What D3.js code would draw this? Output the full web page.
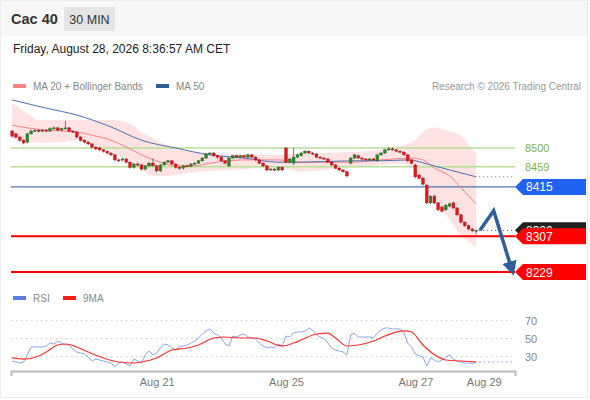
<!DOCTYPE html>
<html>
<head>
<meta charset="utf-8">
<script src="https://cdn.jsdelivr.net/npm/d3@7"></script>
<style>
  body { margin: 0; background: #fff; }
  text { font-family: "Liberation Sans", Arial, sans-serif; }
</style>
</head>
<body>
<div id="chart"></div>
<script>
// 30 min candles, CAC 40 (index 0 = first bar on the left)
const opens = [8537,8531,8524,8517,8513,8531,8537,8539,8537,8539,8537,8542,8544,8539,8542,8544,8537,8535,8524,8517,
  8513,8509,8502,8500,8496,8493,8489,8485,8474,8474,8476,8469,8458,8465,8463,8454,8461,8467,8461,8450,
  8463,8469,8472,8465,8458,8456,8461,8460,8465,8467,8472,8478,8487,8489,8483,8480,8472,8461,8478,8483,
  8480,8483,8480,8485,8480,8474,8467,8461,8452,8454,8452,8458,8500,8469,8467,8480,8483,8489,8493,8489,
  8487,8480,8478,8476,8469,8463,8456,8452,8448,8467,8478,8483,8478,8476,8474,8476,8472,8485,8489,8496,
  8498,8496,8493,8491,8485,8474,8463,8441,8434,8419,8380,8395,8380,8371,8365,8373,8380,8369,8354,8338,
  8330,8323,8318];
const closes = [8526,8524,8517,8511,8531,8537,8539,8537,8539,8537,8542,8544,8539,8542,8544,8537,8535,8524,8517,8513,
  8509,8502,8498,8496,8493,8489,8485,8474,8472,8476,8469,8458,8465,8463,8454,8461,8467,8461,8450,8463,
  8469,8472,8465,8458,8456,8461,8460,8465,8467,8472,8478,8487,8489,8483,8480,8472,8467,8478,8483,8480,
  8483,8480,8485,8480,8474,8467,8461,8452,8454,8452,8458,8452,8469,8476,8480,8485,8489,8493,8489,8487,
  8480,8478,8476,8469,8463,8456,8452,8448,8439,8478,8485,8478,8476,8474,8476,8474,8485,8489,8496,8498,
  8496,8493,8491,8485,8472,8467,8437,8434,8421,8380,8395,8380,8365,8362,8375,8378,8369,8354,8338,8330,
  8323,8319,8320];
const highs = [8540,8533,8526,8519,8533,8540,8541,8541,8541,8541,8545,8547,8546,8544,8559,8546,8539,8537,8526,8519,
  8515,8511,8504,8503,8498,8495,8491,8487,8477,8479,8478,8471,8467,8468,8465,8463,8469,8477,8463,8465,
  8471,8474,8474,8467,8460,8463,8463,8467,8469,8474,8480,8489,8491,8491,8485,8482,8474,8480,8485,8485,
  8485,8485,8487,8487,8482,8476,8469,8463,8456,8456,8460,8460,8502,8478,8500,8487,8491,8496,8495,8491,
  8489,8482,8480,8478,8471,8465,8458,8454,8450,8480,8487,8486,8480,8478,8478,8478,8487,8491,8498,8502,
  8501,8498,8495,8493,8487,8476,8465,8443,8437,8421,8397,8398,8382,8374,8377,8380,8383,8371,8356,8340,
  8333,8325,8322];
const lows = [8523,8521,8514,8508,8510,8529,8535,8534,8535,8534,8535,8540,8537,8537,8540,8534,8532,8521,8514,8510,
  8506,8499,8495,8493,8490,8486,8482,8471,8469,8471,8466,8455,8455,8460,8451,8451,8458,8459,8447,8448,
  8461,8467,8463,8455,8453,8453,8458,8458,8463,8465,8470,8476,8485,8481,8477,8469,8464,8458,8476,8478,
  8478,8478,8478,8478,8471,8465,8458,8449,8450,8449,8450,8449,8467,8466,8463,8478,8481,8487,8487,8485,
  8478,8476,8474,8467,8460,8454,8449,8446,8436,8464,8476,8476,8474,8472,8472,8472,8470,8483,8487,8494,
  8494,8491,8489,8483,8469,8464,8434,8431,8418,8377,8377,8377,8362,8359,8362,8370,8366,8351,8335,8327,
  8320,8316,8311];

// moving averages and Bollinger bands at these bar indices
const ma50Idx = [0,9,17,26,34,43,52,61,70,76,89,97,104,110,115,122];
const ma50Val = [8605,8587,8572,8546,8517,8500,8485,8478,8469,8469,8472,8472,8474,8463,8452,8437];
const ma20Idx = [0,4,13,17,21,26,30,34,39,43,48,52,61,70,76,89,97,105,108,111,115,118,122];
const ma20Val = [8550,8544,8537,8535,8528,8517,8502,8485,8469,8461,8461,8467,8474,8474,8469,8469,8474,8478,8474,8456,8439,8413,8378];
const bandIdx = [0,4,7,13,17,21,26,30,34,38,43,48,52,57,64,70,76,83,89,97,102,106,108,111,115,118,120,122];
const bandUpper = [8598,8576,8561,8561,8561,8561,8561,8557,8535,8517,8498,8492,8489,8487,8486,8485,8487,8489,8491,8496,8504,8517,8535,8544,8537,8526,8507,8489];
const bandLower = [8522,8511,8512,8513,8517,8507,8491,8474,8452,8438,8441,8448,8450,8452,8456,8458,8448,8453,8458,8463,8466,8450,8425,8390,8343,8310,8295,8284];

// RSI (one value per bar) and its 9 period average
const rsi = [25.2,24.1,23,24.1,32,40.8,40.8,40.8,40.8,41.9,45.2,44.1,47.4,45.2,43,43,38.6,35.2,34.1,33,
  29.7,25.2,27.4,26.3,25.2,24.1,23,18.6,23,24.1,21.9,19.7,27.4,25.2,23,31.9,36.3,31.9,34.1,39.7,
  44.1,43,39.7,37.4,40.8,41.9,43,45.2,47.4,50.8,55.2,58.6,60.8,56.3,54.1,50.8,44.1,41.9,53,51.9,
  54.1,55.2,51.9,50.8,49.7,45.2,41.9,39.7,40.8,39.7,44.1,41.9,53,51.9,56.3,57.4,57.4,58.6,61.9,59.7,
  54.1,51.9,49.7,45.2,39.7,37.4,36.3,35.2,31.9,54.1,56.3,51.9,51.9,51.9,51.9,50.8,56.3,59.7,61.9,61.9,
  60.8,60.8,60.8,56.3,45.2,40.8,33,30.8,29.7,19.7,28.6,26.3,24.1,26.3,29.7,31.9,27.4,25.2,24.1,23,
  23,21.9,24.1];
const rsiMaIdx = [0,3,7,9,12,14,17,20,24,28,32,34,38,42,46,49,53,56,60,64,67,71,74,76,80,83,85,88,91,95,98,103,105,108,112,114,118,122];
const rsiMaVal = [28.6,27.4,30.8,35.2,43,44.1,40.8,35.2,28.6,24.1,23,24.1,28.6,37.4,39.7,43,50.8,51.9,50.8,50.8,47.4,41.9,45.2,48.6,55.2,56.3,50.8,41.9,43,47.4,53,58.6,57.4,43,29.7,26.3,25.2,24.1];

// date ticks and levels
const tickIdx = [38, 72, 106, 124];
const tickLabels = ["Aug 21", "Aug 25", "Aug 27", "Aug 29"];
const resistances = [8500, 8459];
const pivot = 8415;
const supports = [8307, 8229];
const lastPrice = 8320;
const rsiLevels = [70, 50, 30];
// forecast arrow, in bar index / price
const arrowPts = [[123, 8320], [126.6, 8363], [131.3, 8236]];

const width = 590, height = 400;

const svg = d3.select("#chart").append("svg")
  .attr("width", width)
  .attr("height", height);

// card + header
svg.append("rect").attr("x", 0.5).attr("y", 0.5).attr("width", width - 3).attr("height", height - 3)
  .attr("fill", "#fff").attr("stroke", "#ececec");
svg.append("rect").attr("x", 1).attr("y", 1).attr("width", width - 4).attr("height", 35).attr("fill", "#f7f7f7");
svg.append("text").attr("x", 11).attr("y", 24).text("Cac 40")
  .attr("font-size", 14.5).attr("font-weight", "bold").attr("fill", "#333");
svg.append("rect").attr("x", 64).attr("y", 7).attr("width", 51).attr("height", 24).attr("fill", "#e4e4e4");
svg.append("text").attr("x", 89.5).attr("y", 24).attr("text-anchor", "middle").text("30 MIN")
  .attr("font-size", 12.5).attr("fill", "#333");
svg.append("text").attr("x", 13).attr("y", 53).text("Friday, August 28, 2026 8:36:57 AM CET")
  .attr("font-size", 12).attr("fill", "#222");

// legends
const legend = (x, y, color, label) => {
  svg.append("rect").attr("x", x).attr("y", y - 2).attr("width", 13).attr("height", 4).attr("fill", color);
  svg.append("text").attr("x", x + 20).attr("y", y + 4).text(label).attr("font-size", 10).attr("fill", "#888");
};
legend(13, 86, "#ff8585", "MA 20 + Bollinger Bands");
legend(156, 86, "#2f5c9c", "MA 50");
legend(13, 298, "#5b7fe0", "RSI");
legend(63, 298, "#ff1a1a", "9MA");
svg.append("text").attr("x", 581).attr("y", 90).attr("text-anchor", "end")
  .text("Research \u00a9 2026 Trading Central").attr("font-size", 10).attr("fill", "#999");

// scales
const x = d3.scaleLinear().domain([-0.3, 132.2]).range([11, 515]);
const y = d3.scaleLinear().domain([8229, 8500]).range([272, 148]);
const yr = d3.scaleLinear().domain([30, 70]).range([356.7, 320.7]);

const plot = svg.append("g");

// bollinger band
const band = bandIdx.map((d, i) => ({ i: d, u: bandUpper[i], l: bandLower[i] }));
plot.append("path").datum(band)
  .attr("fill", "#ffd9d9").attr("opacity", 0.75)
  .attr("d", d3.area().x(d => x(d.i)).y0(d => y(d.l)).y1(d => y(d.u)).curve(d3.curveMonotoneX));

// horizontal levels
resistances.forEach(v => {
  plot.append("line").attr("x1", 11).attr("x2", 515).attr("y1", y(v)).attr("y2", y(v))
    .attr("stroke", "#b8df98").attr("stroke-width", 1.5);
  svg.append("text").attr("x", 525).attr("y", y(v) + 4).text(v)
    .attr("font-size", 11).attr("fill", "#7cb63e");
});
plot.append("line").attr("x1", 11).attr("x2", 515).attr("y1", y(pivot)).attr("y2", y(pivot))
  .attr("stroke", "#2b4fa8").attr("stroke-width", 1);
supports.forEach(v => {
  plot.append("line").attr("x1", 11).attr("x2", 515).attr("y1", y(v)).attr("y2", y(v))
    .attr("stroke", "#ff0000").attr("stroke-width", 2);
});

// moving averages
const line = d3.line().x(d => x(d[0])).y(d => y(d[1])).curve(d3.curveMonotoneX);
plot.append("path").datum(ma20Idx.map((d, i) => [d, ma20Val[i]]))
  .attr("fill", "none").attr("stroke", "#ff8080").attr("stroke-width", 1).attr("d", line);
plot.append("path").datum(ma50Idx.map((d, i) => [d, ma50Val[i]]))
  .attr("fill", "none").attr("stroke", "#4a6fae").attr("stroke-width", 1).attr("d", line);
plot.append("line").attr("x1", x(122) + 3).attr("x2", 515)
  .attr("y1", y(ma50Val[ma50Val.length - 1])).attr("y2", y(ma50Val[ma50Val.length - 1]))
  .attr("stroke", "#4a6fae").attr("stroke-dasharray", "1,3");

// candles
const candles = closes.map((c, i) => ({ i, o: opens[i], c, h: highs[i], l: lows[i] }));
const cg = plot.selectAll("g.candle").data(candles).join("g").attr("class", "candle");
cg.append("line")
  .attr("x1", d => x(d.i)).attr("x2", d => x(d.i))
  .attr("y1", d => y(d.h)).attr("y2", d => y(d.l))
  .attr("stroke", "#555").attr("stroke-width", 0.8);
cg.append("rect")
  .attr("x", d => x(d.i) - 1.4).attr("width", 2.8)
  .attr("y", d => y(Math.max(d.o, d.c)))
  .attr("height", d => Math.max(1, Math.abs(y(d.o) - y(d.c))))
  .attr("fill", d => d.c >= d.o ? "#2c8a2c" : "#e8141c")
  .attr("stroke", d => d.c >= d.o ? "#1d5e1d" : "#a80d12").attr("stroke-width", 0.4);

// last price dotted line + tags
plot.append("line").attr("x1", x(122) + 3).attr("x2", 515).attr("y1", y(lastPrice)).attr("y2", y(lastPrice))
  .attr("stroke", "#444").attr("stroke-dasharray", "1,3");
const tag = (v, fill) => {
  const ty = y(v);
  svg.append("path")
    .attr("d", `M515,${ty} L523,${ty - 8} L586,${ty - 8} L586,${ty + 8} L523,${ty + 8} Z`)
    .attr("fill", fill);
  svg.append("text").attr("x", 526).attr("y", ty + 4.5).text(v)
    .attr("font-size", 12).attr("fill", "#fff");
};
tag(lastPrice, "#222");
tag(pivot, "#1f63f0");
supports.forEach(v => tag(v, "#ff0000"));

// forecast arrow
const defs = svg.append("defs");
defs.append("marker").attr("id", "head").attr("viewBox", "0 0 10 10")
  .attr("refX", 5).attr("refY", 5).attr("markerWidth", 4.2).attr("markerHeight", 4.2)
  .attr("orient", "auto")
  .append("path").attr("d", "M0,0 L10,5 L0,10 Z").attr("fill", "#2f5f9a");
svg.append("path").datum(arrowPts)
  .attr("fill", "none").attr("stroke", "#2f5f9a").attr("stroke-width", 3.5)
  .attr("stroke-linejoin", "miter")
  .attr("marker-end", "url(#head)")
  .attr("d", d3.line().x(d => x(d[0])).y(d => y(d[1])));

// RSI panel
rsiLevels.forEach(v => {
  svg.append("line").attr("x1", 11).attr("x2", 515).attr("y1", yr(v)).attr("y2", yr(v))
    .attr("stroke", "#c8c8c8").attr("stroke-dasharray", "1.5,3.5");
  svg.append("text").attr("x", 525).attr("y", yr(v) + 4).text(v)
    .attr("font-size", 11).attr("fill", "#888");
});
const rline = d3.line().x(d => x(d[0])).y(d => yr(d[1]));
svg.append("path").datum(rsi.map((v, i) => [i, v]))
  .attr("fill", "none").attr("stroke", "#7d9cf0").attr("stroke-width", 0.9).attr("d", rline);
svg.append("path").datum(rsiMaIdx.map((d, i) => [d, rsiMaVal[i]]))
  .attr("fill", "none").attr("stroke", "#ff3030").attr("stroke-width", 1.2)
  .attr("d", rline.curve(d3.curveMonotoneX));
svg.append("line").attr("x1", x(122) + 3).attr("x2", 515)
  .attr("y1", yr(rsi[rsi.length - 1])).attr("y2", yr(rsi[rsi.length - 1]))
  .attr("stroke", "#7d9cf0").attr("stroke-dasharray", "1.5,3");

// date axis
const axis = svg.append("g").attr("transform", "translate(0,371)")
  .call(d3.axisBottom(x).tickValues(tickIdx).tickFormat((d, i) => tickLabels[i])
    .tickSizeInner(0).tickSizeOuter(5).tickPadding(7));
axis.select(".domain").attr("stroke", "#bbb").attr("stroke-width", 2);
axis.selectAll("text").attr("font-size", 11).attr("fill", "#777")
  .attr("font-family", "Liberation Sans, Arial, sans-serif");
</script>
</body>
</html>
